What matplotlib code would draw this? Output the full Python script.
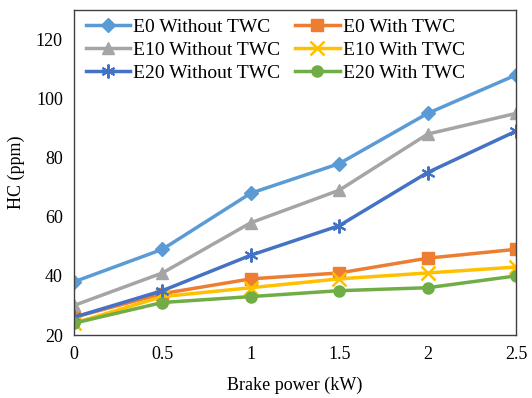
import matplotlib
matplotlib.use("Agg")
import matplotlib.pyplot as plt

plt.rcParams['font.family'] = ['Liberation Serif', 'DejaVu Serif']

x = [0, 0.5, 1, 1.5, 2, 2.5]
labels = ["E0 Without TWC", "E0 With TWC", "E10 Without TWC",
          "E10 With TWC", "E20 Without TWC", "E20 With TWC"]
e0_without = [38, 49, 68, 78, 95, 108]
e0_with = [26, 34, 39, 41, 46, 49]
e10_without = [30, 41, 58, 69, 88, 95]
e10_with = [24, 33, 36, 39, 41, 43]
e20_without = [26, 35, 47, 57, 75, 89]
e20_with = [24, 31, 33, 35, 36, 40]

series = [e0_without, e0_with, e10_without, e10_with, e20_without, e20_with]
colors = ["#5B9BD5", "#ED7D31", "#A5A5A5", "#FFC000", "#4472C4", "#70AD47"]
markers = ["D", "s", "^", "x", "*", "o"]
msizes = [7, 8, 8, 10, 10, 8]

fig = plt.figure(figsize=(5.32, 3.98), dpi=100)
ax = fig.add_axes([74/532, 1-335/398, (516-74)/532, (335-10)/398])

handles = []
for ys, lab, c, m, ms in zip(series, labels, colors, markers, msizes):
    if m == "*":
        (h,) = ax.plot(x, ys, color=c, lw=2.5, marker=(6, 2, 0), ms=ms, mew=1.5, label=lab)
    elif m == "x":
        (h,) = ax.plot(x, ys, color=c, lw=2.5, marker=m, ms=ms, mew=1.8, label=lab)
    else:
        (h,) = ax.plot(x, ys, color=c, lw=2.5, marker=m, ms=ms, label=lab)
    handles.append(h)

ax.set_xlim(0, 2.5)
ax.set_ylim(20, 130)
ax.set_xticks([0, 0.5, 1, 1.5, 2, 2.5])
ax.set_xticklabels(["0", "0.5", "1", "1.5", "2", "2.5"])
ax.set_yticks([20, 40, 60, 80, 100, 120])
ax.tick_params(length=0, labelsize=13, pad=8)
for s in ax.spines.values():
    s.set_color("#404040")
    s.set_linewidth(1)

ax.set_xlabel("Brake power (kW)", fontsize=13, labelpad=10)
ax.set_ylabel("HC (ppm)", fontsize=13, labelpad=8)

order = [0, 2, 4, 1, 3, 5]
ax.legend(handles=[handles[i] for i in order], ncol=2, loc="upper left", frameon=False,
          fontsize=14, handlelength=2.3, columnspacing=0.75, handletextpad=0.15,
          labelspacing=0.28, borderaxespad=0.2, bbox_to_anchor=(0.0, 1.01))

fig.savefig("out.png", dpi=100)
